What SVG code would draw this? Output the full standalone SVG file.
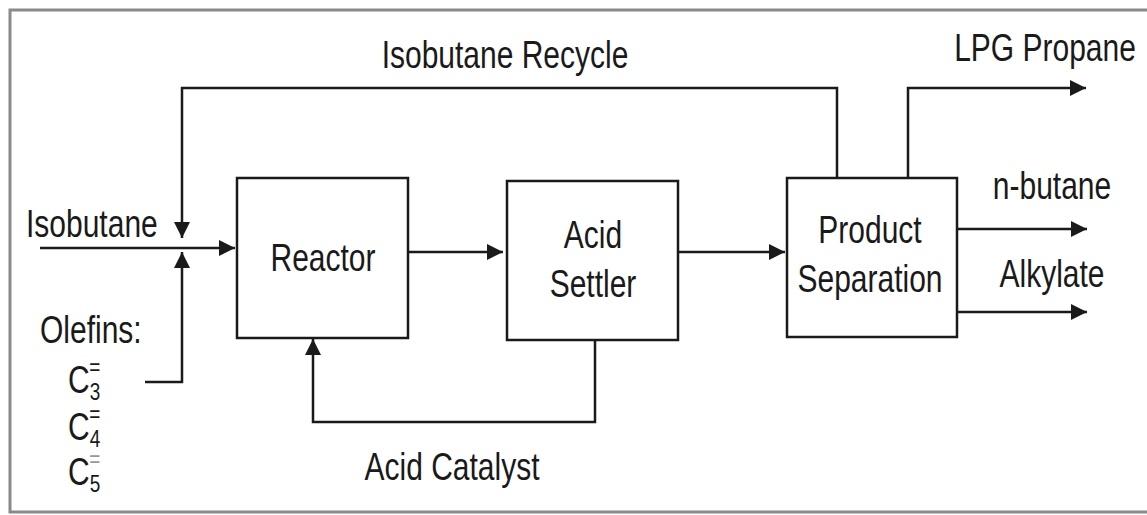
<svg xmlns="http://www.w3.org/2000/svg" width="1147" height="515" viewBox="0 0 1147 515">
<style>
.t{font-family:"Liberation Sans",Arial,sans-serif;font-size:30px;fill:#1a1a1a}
.sm{font-size:19px}
.box{fill:#fff;stroke:#1a1a1a;stroke-width:2.5}
.ln{fill:none;stroke:#1a1a1a;stroke-width:2.5}
</style>
<defs>
<marker id="ah" viewBox="0 0 16 16" refX="16" refY="8" markerWidth="16" markerHeight="16" markerUnits="userSpaceOnUse" orient="auto">
<path d="M0,0 L16,8 L0,16 Z" fill="#1a1a1a"/>
</marker>
</defs>
<rect width="1147" height="515" fill="#fff"/>
<path d="M1150,10 L10,10 L10,512 L1150,512" fill="none" stroke="#8a8a8a" stroke-width="3"/>
<g id="connectors">
<path class="ln" d="M837,178 V88 H182 V238" marker-end="url(#ah)"/>
<path class="ln" d="M40,248 H235" marker-end="url(#ah)"/>
<path class="ln" d="M145,382 H182 V252" marker-end="url(#ah)"/>
<path class="ln" d="M408,252 H503" marker-end="url(#ah)"/>
<path class="ln" d="M595,340 V422 H313 V339" marker-end="url(#ah)"/>
<path class="ln" d="M678,252 H785" marker-end="url(#ah)"/>
<path class="ln" d="M908,178 V88 H1086" marker-end="url(#ah)"/>
<path class="ln" d="M957,229 H1087" marker-end="url(#ah)"/>
<path class="ln" d="M957,312 H1087" marker-end="url(#ah)"/>
</g>
<g id="reactor">
<rect class="box" x="237" y="178" width="171" height="160"/>
<text class="t" text-anchor="middle" transform="translate(323,271) scale(1,1.3)">Reactor</text>
</g>
<g id="settler">
<rect class="box" x="507" y="181" width="171" height="159"/>
<text class="t" text-anchor="middle" transform="translate(593,248) scale(1,1.3)">Acid</text>
<text class="t" text-anchor="middle" transform="translate(593,297) scale(1,1.3)">Settler</text>
</g>
<g id="separation">
<rect class="box" x="787" y="178" width="170" height="159"/>
<text class="t" text-anchor="middle" transform="translate(870,243) scale(1,1.3)">Product</text>
<text class="t" text-anchor="middle" transform="translate(870,292) scale(1,1.3)">Separation</text>
</g>
<g id="labels">
<text class="t" text-anchor="middle" transform="translate(505,68) scale(1,1.3)">Isobutane Recycle</text>
<text class="t" text-anchor="middle" transform="translate(1045,61) scale(1,1.3)">LPG Propane</text>
<text class="t" text-anchor="middle" transform="translate(1052,199) scale(1,1.3)">n-butane</text>
<text class="t" text-anchor="middle" transform="translate(1052,287) scale(1,1.3)">Alkylate</text>
<text class="t" transform="translate(26,237) scale(1,1.3)">Isobutane</text>
<text class="t" transform="translate(40,343) scale(1,1.3)">Olefins:</text>
<text class="t" text-anchor="middle" transform="translate(452,480) scale(1,1.3)">Acid Catalyst</text>
<text class="t" transform="translate(68,393) scale(1,1.3)">C<tspan class="sm" dy="5">3</tspan><tspan class="sm" dx="-11" dy="-19">=</tspan></text>
<text class="t" transform="translate(68,440) scale(1,1.3)">C<tspan class="sm" dy="5">4</tspan><tspan class="sm" dx="-11" dy="-19">=</tspan></text>
<text class="t" transform="translate(68,485) scale(1,1.3)">C<tspan class="sm" dy="5">5</tspan><tspan class="sm" dx="-11" dy="-19" fill="#999">=</tspan></text>
</g>
</svg>
